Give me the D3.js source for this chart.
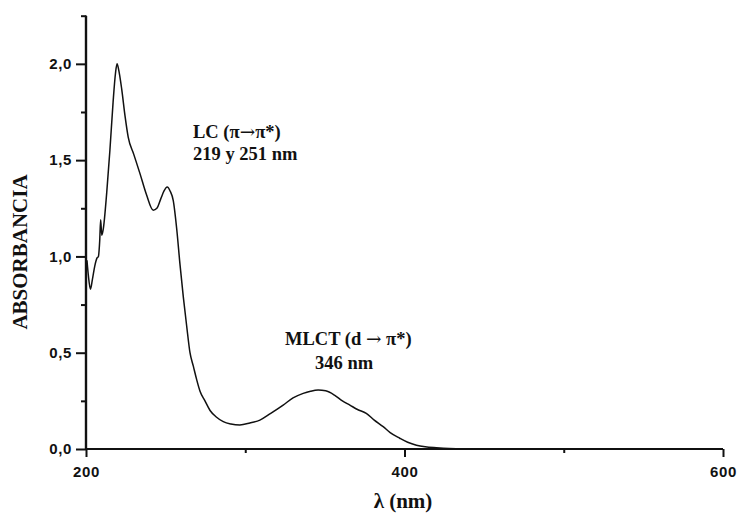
<!DOCTYPE html>
<html>
<head>
<meta charset="utf-8">
<script src="https://cdn.jsdelivr.net/npm/d3@7/dist/d3.min.js"></script>
<style>
  html, body { margin: 0; padding: 0; background: #fff; }
  svg { display: block; }
  .tick text { font-family: "Liberation Sans", Arial, sans-serif; font-weight: bold; font-size: 15px; fill: #111; letter-spacing: 0.6px; }
  .serif { font-family: "Liberation Serif", "Times New Roman", serif; font-weight: bold; fill: #111; }
  .arrow { font-family: "DejaVu Serif", serif; font-weight: normal; }
</style>
</head>
<body>
<svg id="chart" width="738" height="520"></svg>
<script>
// UV-Vis absorption spectrum: wavelength (nm) and absorbance
const wavelength = [
  200.6, 201.5, 202.8, 204.0, 205.5, 206.8, 207.8, 208.6, 209.2, 209.9,
  210.8, 213.0, 215.0, 217.0, 218.5, 219.5, 220.5, 222.4, 224.5, 226.5,
  230.0, 233.9, 238.0, 242.2, 244.5, 247.0, 249.0, 251.0, 252.8, 254.8,
  257.0, 259.0, 261.1, 263.2, 265.3, 267.4, 269.5, 271.6, 274.7, 277.9,
  282.0, 286.2, 291.0, 296.6, 302.9, 309.2, 316.0,
  323.8, 330.0, 336.4, 341.0, 345.8, 350.5, 356.0, 361.0, 365.7, 370.5,
  376.0, 381.0, 386.6, 391.0, 397.0, 402.0, 407.5, 413.0, 420.0, 428.0,
  440.0, 460.0, 600.0
];
const absorbance = [
  0.98, 0.90, 0.83, 0.88, 0.95, 0.99, 1.00, 1.08, 1.19, 1.11,
  1.14, 1.33, 1.55, 1.80, 1.95, 2.00, 1.97, 1.87, 1.73, 1.62,
  1.53, 1.43, 1.32, 1.24, 1.25, 1.30, 1.34, 1.36, 1.34, 1.29,
  1.14, 0.96, 0.79, 0.64, 0.50, 0.43, 0.36, 0.30, 0.25, 0.20,
  0.165, 0.142, 0.13, 0.125, 0.135, 0.15, 0.185,
  0.228, 0.265, 0.289, 0.30, 0.306, 0.302, 0.28, 0.25, 0.228, 0.205,
  0.185, 0.15, 0.116, 0.085, 0.056, 0.035, 0.02, 0.012, 0.007, 0.003,
  0.001, 0.0, 0.0
];

// Axis ticks
const xMajorTicks = [200, 400, 600];
const xMinorTicks = [300, 500];
const yMajorTicks = [0, 0.5, 1.0, 1.5, 2.0];
const yMinorTicks = [0.25, 0.75, 1.25, 1.75, 2.25];

// Band annotations: [before arrow, arrow, after arrow], second line
const bandLines = [
  [["LC (π", "→", "π*)"], "219 y 251 nm"],
  [["MLCT (d ", "→", " π*)"], "346 nm"]
];

const svg = d3.select("#chart");
const x = d3.scaleLinear().domain([200, 600]).range([86, 723]);
const y = d3.scaleLinear().domain([0, 2.25]).range([449, 15.7]);

const commaFmt = d => d3.format(".1f")(d).replace(".", ",");

// y axis: major + minor ticks
const gy = svg.append("g").attr("transform", `translate(${x(200)},0)`);
gy.call(d3.axisLeft(y).tickValues(yMajorTicks).tickSize(10).tickPadding(4)
  .tickFormat(commaFmt).tickSizeOuter(0));
gy.append("g").call(d3.axisLeft(y).tickValues(yMinorTicks).tickSize(5)
  .tickFormat("").tickSizeOuter(0));
gy.selectAll("line").attr("stroke", "#111").attr("stroke-width", 2);
gy.selectAll("path.domain").attr("stroke", "#111").attr("stroke-width", 2.2)
  .attr("d", `M0,${y(2.25)}V${y(0)}`);

// x axis: major + minor ticks
const gx = svg.append("g").attr("transform", `translate(0,${y(0)})`);
gx.call(d3.axisBottom(x).tickValues(xMajorTicks).tickSize(8).tickPadding(9)
  .tickFormat(d3.format("d")).tickSizeOuter(0));
gx.append("g").call(d3.axisBottom(x).tickValues(xMinorTicks).tickSize(4)
  .tickFormat("").tickSizeOuter(0));
gx.selectAll("line").attr("stroke", "#111").attr("stroke-width", 2);
gx.selectAll("path.domain").attr("stroke", "#111").attr("stroke-width", 2.2)
  .attr("d", `M${x(200)},0H${x(600)}`);
svg.selectAll(".domain").attr("fill", "none");

// Spectrum line
const pts = wavelength.map((w, i) => [w, absorbance[i]]);
const line = d3.line().x(d => x(d[0])).y(d => y(d[1])).curve(d3.curveMonotoneX);
svg.append("path").datum(pts)
  .attr("d", line)
  .attr("fill", "none")
  .attr("stroke", "#111")
  .attr("stroke-width", 1.5)
  .attr("stroke-linejoin", "round");

// Axis titles
svg.append("text").attr("class", "serif")
  .attr("x", 403).attr("y", 508)
  .attr("text-anchor", "middle").attr("font-size", 21)
  .text("λ (nm)");

svg.append("text").attr("class", "serif")
  .attr("transform", "translate(27,252) rotate(-90)")
  .attr("text-anchor", "middle").attr("font-size", 21)
  .text("ABSORBANCIA");

// Band labels
const labelOffsets = [
  { first: [193, 138], second: [193, 159.5] },
  { first: [285, 345], second: [315, 368.5] }
];
bandLines.forEach((lines, i) => {
  const o = labelOffsets[i];
  const t = svg.append("text").attr("class", "serif").attr("font-size", 18.5)
    .attr("x", o.first[0]).attr("y", o.first[1]);
  t.append("tspan").text(lines[0][0]);
  t.append("tspan").attr("class", "arrow").text(lines[0][1]);
  t.append("tspan").text(lines[0][2]);
  svg.append("text").attr("class", "serif").attr("font-size", 18.5)
    .attr("x", o.second[0]).attr("y", o.second[1]).text(lines[1]);
});
</script>
</body>
</html>
